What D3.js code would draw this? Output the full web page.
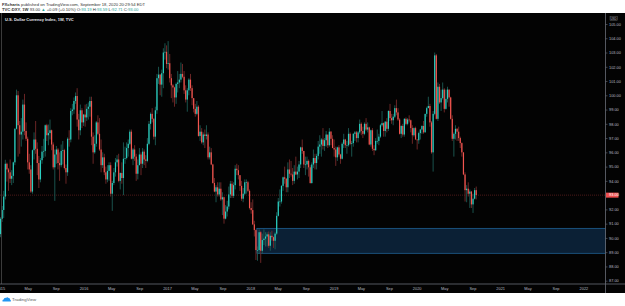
<!DOCTYPE html>
<html>
<head>
<meta charset="utf-8">
<script src="https://cdn.jsdelivr.net/npm/d3@7"></script>
<style>
  body { margin: 0; background: #fff; }
  svg { display: block; font-family: "Liberation Sans", Arial, sans-serif; }
</style>
</head>
<body>
<svg></svg>
<script>
// DXY weekly candles, one [high, low, close] per week.
// open of each week = close of the week before
const firstWeek = '2015-01-02';
const firstOpen = 90.27;

const hlc2015 = [
  [91.45, 90.05, 91.34], [92.24, 91.12, 91.96], [93.30, 91.40, 92.90], [95.48, 92.70, 95.20],
  [95.28, 93.95, 94.80], [94.90, 93.30, 94.60], [95.50, 93.85, 94.15], [94.75, 93.70, 94.35],
  [95.35, 93.85, 95.30], [97.70, 95.10, 97.65], [100.40, 97.60, 100.00], [100.30, 95.70, 97.90],
  [98.20, 95.90, 97.25], [98.40, 96.40, 97.45], [99.70, 96.90, 99.35], [100.10, 97.20, 97.50],
  [98.10, 96.80, 96.95], [97.10, 94.80, 95.30], [95.90, 94.50, 94.80], [95.10, 93.15, 93.25],
  [96.20, 93.10, 96.15], [97.40, 95.50, 96.90], [98.20, 95.90, 96.25], [96.70, 94.40, 95.25],
  [95.75, 93.50, 94.10], [95.60, 93.90, 95.45], [96.45, 95.20, 96.05], [96.95, 95.60, 96.10],
  [97.95, 95.70, 97.90], [98.00, 96.80, 97.20], [97.95, 96.50, 97.35], [98.30, 96.90, 97.55],
  [97.60, 96.15, 96.55], [96.70, 94.80, 94.95], [96.20, 92.60, 95.85], [96.45, 95.20, 96.20],
  [96.30, 94.80, 95.25], [96.00, 94.00, 95.10], [96.55, 94.95, 96.10], [96.80, 95.15, 96.15],
  [96.25, 94.80, 94.90], [95.15, 93.80, 94.60], [97.05, 94.35, 96.95], [97.55, 96.40, 96.90],
  [99.10, 96.70, 98.90], [99.40, 98.60, 99.00], [99.85, 98.70, 99.60], [100.20, 99.40, 99.95],
  [100.50, 97.80, 98.30], [98.70, 96.90, 97.55], [99.35, 97.20, 98.95], [99.10, 97.70, 98.10]
];

const hlc2016 = [
  [98.70, 97.85, 98.65], [99.35, 97.80, 98.45], [99.40, 98.20, 99.05], [99.50, 98.30, 99.20],
  [99.90, 98.50, 99.60], [99.90, 96.50, 97.10], [97.40, 95.20, 96.00], [97.20, 95.90, 96.60],
  [98.20, 96.40, 98.10], [98.60, 97.20, 97.30], [98.40, 96.10, 96.20], [96.90, 94.60, 95.10],
  [96.00, 94.90, 95.65], [95.90, 94.40, 94.60], [95.00, 93.80, 94.10], [95.10, 93.90, 94.70],
  [95.30, 94.00, 95.10], [95.30, 92.90, 93.10], [94.00, 91.90, 93.85], [94.90, 93.70, 94.60],
  [95.60, 94.30, 95.30], [95.80, 95.00, 95.50], [95.90, 93.90, 94.00], [94.60, 93.40, 94.55],
  [95.30, 93.80, 94.20], [96.70, 93.00, 95.55], [96.40, 95.20, 95.60], [96.70, 95.50, 96.30],
  [96.90, 95.70, 96.60], [97.60, 96.50, 97.45], [97.60, 95.50, 95.55], [96.30, 95.10, 96.20],
  [96.50, 95.40, 95.70], [95.90, 94.00, 94.50], [95.50, 94.10, 95.10], [96.30, 95.10, 95.85],
  [96.00, 94.40, 95.20], [96.30, 94.90, 96.05], [96.20, 95.10, 95.50], [95.80, 94.90, 95.40],
  [97.00, 95.30, 96.60], [98.20, 96.50, 98.00], [98.80, 97.60, 98.70], [99.10, 98.10, 98.35],
  [98.40, 96.90, 97.10], [99.20, 96.50, 98.95], [101.50, 98.70, 101.20], [102.00, 100.80, 101.45],
  [101.50, 100.00, 100.75], [101.80, 99.90, 101.55], [103.30, 100.50, 103.00], [103.65, 102.50, 103.05],
  [103.50, 101.90, 102.20]
];

const hlc2017 = [
  [103.80, 101.80, 102.25], [102.90, 100.90, 101.20], [101.50, 99.80, 100.70], [100.80, 99.50, 100.55],
  [100.60, 99.20, 99.85], [100.90, 99.40, 100.80], [101.70, 100.20, 100.90], [101.50, 100.50, 101.10],
  [102.30, 100.90, 101.50], [102.20, 101.20, 101.30], [101.70, 100.10, 100.35], [100.70, 99.50, 99.70],
  [100.50, 98.85, 100.35], [101.20, 100.00, 101.10], [101.50, 100.30, 100.50], [100.70, 99.30, 99.80],
  [99.80, 98.80, 99.05], [99.40, 98.50, 98.70], [99.60, 98.60, 99.20], [99.30, 97.10, 97.15],
  [97.90, 96.80, 97.45], [97.70, 96.60, 96.70], [97.40, 96.50, 97.25], [97.60, 96.30, 97.15],
  [97.90, 96.90, 97.25], [97.40, 95.50, 95.65], [96.40, 95.50, 96.00], [96.30, 95.10, 95.15],
  [95.20, 93.80, 93.85], [94.20, 93.20, 93.25], [93.70, 92.50, 93.55], [93.90, 92.90, 93.05],
  [93.90, 92.90, 93.45], [93.90, 92.60, 92.70], [93.20, 91.60, 92.85], [92.90, 91.00, 91.35],
  [92.30, 91.30, 91.85], [92.60, 91.50, 92.20], [93.60, 92.00, 93.05], [94.00, 92.80, 93.80],
  [94.00, 92.80, 92.95], [93.90, 92.80, 93.70], [95.10, 93.40, 94.85], [95.20, 94.40, 94.75],
  [95.10, 94.10, 94.40], [94.40, 93.30, 93.65], [94.00, 92.60, 92.75], [93.50, 92.50, 93.10],
  [94.10, 93.00, 93.90], [94.10, 93.10, 93.90], [94.00, 93.20, 93.30], [93.40, 92.00, 92.10]
];

const hlc2018 = [
  [92.50, 91.70, 91.95], [92.70, 90.90, 90.95], [91.20, 90.10, 90.55], [90.60, 88.45, 89.15],
  [89.40, 88.40, 89.15], [90.60, 88.90, 90.40], [90.50, 88.25, 89.10], [90.30, 88.90, 89.85],
  [90.60, 89.50, 89.95], [90.40, 89.40, 90.10], [90.40, 89.40, 90.25], [90.45, 89.30, 89.45],
  [90.40, 89.10, 90.15], [90.50, 89.80, 90.05], [90.10, 89.30, 89.80], [90.40, 89.20, 90.30],
  [91.80, 90.20, 91.55], [92.80, 91.50, 92.55], [93.40, 92.20, 92.55], [93.70, 92.40, 93.65],
  [94.30, 93.30, 94.25], [95.00, 93.80, 94.15], [94.20, 93.20, 93.55], [95.30, 93.20, 94.80],
  [95.50, 94.20, 94.50], [95.40, 94.30, 94.45], [94.90, 93.70, 94.00], [95.10, 93.80, 94.65],
  [95.70, 94.40, 94.45], [95.00, 94.10, 94.65], [95.40, 94.20, 95.15], [96.40, 94.90, 96.35],
  [96.90, 95.90, 96.10], [96.10, 94.90, 95.15], [95.70, 94.40, 95.15], [95.70, 94.80, 95.40],
  [95.50, 94.30, 94.95], [95.10, 93.80, 93.85], [95.30, 93.80, 95.15], [96.20, 94.90, 95.60],
  [95.90, 94.80, 95.25], [95.90, 94.80, 95.75], [96.80, 95.50, 96.40], [97.20, 95.90, 96.55],
  [97.00, 95.70, 96.90], [97.70, 96.20, 96.45], [97.00, 96.10, 96.85], [97.50, 96.40, 97.25],
  [97.20, 96.30, 96.50], [97.70, 96.40, 97.45], [97.50, 96.50, 96.95], [97.20, 96.30, 96.30]
];

const hlc2019 = [
  [96.90, 95.70, 96.20], [96.40, 95.05, 95.65], [96.40, 95.40, 96.35], [96.50, 95.70, 95.85],
  [95.90, 95.20, 95.55], [96.70, 95.50, 96.60], [97.30, 96.30, 96.90], [96.95, 96.30, 96.50],
  [96.80, 95.90, 96.50], [97.70, 96.40, 97.30], [97.40, 96.50, 96.60], [96.80, 95.70, 96.65],
  [97.35, 96.40, 97.30], [97.50, 96.80, 97.40], [97.50, 96.70, 97.00], [97.50, 96.70, 97.40],
  [98.30, 97.30, 98.00], [98.10, 97.20, 97.50], [97.80, 97.00, 97.30], [98.10, 97.20, 98.00],
  [98.40, 97.50, 97.60], [98.10, 97.40, 97.75], [97.80, 96.50, 96.55], [97.60, 96.40, 97.55],
  [97.70, 96.10, 96.25], [96.50, 95.80, 96.15], [97.00, 96.10, 96.80], [97.60, 96.60, 96.80],
  [97.30, 96.50, 97.10], [98.00, 97.00, 97.90], [98.90, 97.80, 98.05], [98.10, 97.10, 97.50],
  [98.20, 97.10, 98.15], [98.40, 97.40, 97.65], [98.95, 97.50, 98.90], [99.40, 98.20, 98.40],
  [98.70, 98.00, 98.25], [98.70, 97.90, 98.50], [99.30, 98.40, 99.10], [99.70, 98.60, 98.80],
  [99.10, 98.20, 98.30], [98.40, 97.25, 97.30], [97.90, 97.00, 97.85], [98.00, 97.10, 97.25],
  [98.40, 97.10, 98.35], [98.45, 97.90, 98.00], [98.40, 97.90, 98.30], [98.60, 98.10, 98.25],
  [98.30, 97.40, 97.70], [97.90, 96.60, 97.20], [97.75, 97.10, 97.70], [97.80, 96.90, 96.90]
];

const hlc2020 = [
  [96.90, 96.20, 96.85], [97.45, 96.60, 97.35], [97.65, 96.90, 97.60], [97.90, 97.30, 97.85],
  [98.20, 97.30, 97.40], [98.70, 97.40, 98.70], [99.20, 98.50, 99.10], [99.90, 99.10, 99.25],
  [99.40, 97.80, 98.10], [98.20, 95.90, 96.00], [98.90, 94.65, 98.70], [103.00, 98.60, 102.80],
  [102.90, 98.30, 98.35], [100.90, 98.20, 100.60], [100.80, 99.40, 99.50], [100.40, 98.90, 99.80],
  [100.90, 99.70, 100.40], [100.50, 98.80, 99.05], [100.40, 99.00, 99.75], [100.60, 99.50, 100.40],
  [100.40, 99.20, 99.85], [99.90, 98.30, 98.35], [98.60, 96.80, 96.95], [97.40, 95.70, 97.30],
  [97.90, 96.90, 97.65], [97.70, 96.80, 97.45], [97.80, 96.80, 97.00], [97.10, 96.30, 96.65],
  [96.70, 95.70, 96.00], [96.00, 94.40, 94.45], [94.60, 92.55, 93.35], [93.70, 92.50, 93.45],
  [93.90, 92.90, 93.10], [93.40, 92.10, 93.25], [93.30, 92.10, 92.35], [93.10, 91.75, 92.75],
  [93.50, 92.70, 93.35], [93.60, 92.70, 93.00]
];

const priceTicks = [105, 104, 103, 102, 101, 100, 99, 98, 97, 96, 95, 94, 92, 91, 90, 89, 88, 87];
const lastPrice = 93.00;

const timeTicks = [
  '2015-01-01', '2015-05-01', '2015-09-01', '2016-01-01', '2016-05-01', '2016-09-01',
  '2017-01-01', '2017-05-01', '2017-09-01', '2018-01-01', '2018-05-01', '2018-09-01',
  '2019-01-01', '2019-05-01', '2019-09-01', '2020-01-01', '2020-05-01', '2020-09-01',
  '2021-01-01', '2021-05-01', '2021-09-01', '2022-01-01'
];
const timeLabels = [
  '2015', 'May', 'Sep', '2016', 'May', 'Sep', '2017', 'May', 'Sep', '2018', 'May', 'Sep',
  '2019', 'May', 'Sep', '2020', 'May', 'Sep', '2021', 'May', 'Sep', '2022'
];

// demand zone drawn on the chart
const zoneStart = '2018-01-30';
const zoneTop = 90.67;
const zoneBottom = 88.92;

const svg = d3.select('svg')
  .attr('width', 625)
  .attr('height', 306);

const width = +svg.attr('width'),
  plotRight = 605.5,
  chartTop = 13,
  axisY = 284,
  chartBottom = 293;

const upBody = '#2ad0c2', downBody = '#f2554f',
  upWick = '#1d5c56', downWick = '#772a2a',
  axisColor = '#6b6e78', labelColor = '#b7bac2';

const parse = d3.timeParse('%Y-%m-%d');

let data = [], prev = firstOpen, t = parse(firstWeek);
[hlc2015, hlc2016, hlc2017, hlc2018, hlc2019, hlc2020].flat().forEach(([h, l, c]) => {
  data.push({ date: t, o: prev, h: h, l: l, c: c });
  prev = c;
  t = d3.timeDay.offset(t, 7);
});

const xScale = d3.scaleTime()
  .domain([new Date(2015, 0, 1), new Date(2022, 0, 1)])
  .range([0.3, 583.4]);

const yScale = d3.scaleLinear()
  .domain([87, 105])
  .range([280.7, 24]);

// header on white
const header = svg.append('g').attr('font-size', 4.2).attr('fill', '#333');
const h1 = header.append('text').attr('x', 2).attr('y', 5.6);
h1.append('tspan').attr('font-weight', 'bold').text('FXcharts');
h1.append('tspan').text(' published on TradingView.com, September 18, 2020 20:29:54 EDT');

const h2 = header.append('text').attr('x', 2).attr('y', 11);
h2.append('tspan').attr('font-weight', 'bold').text('TVC:DXY, 1W');
h2.append('tspan').text(' 93.00 ');
h2.append('tspan').attr('fill', '#26a69a').text('▲');
h2.append('tspan').text(' +0.09 (+0.10%) O:');
h2.append('tspan').attr('fill', '#26a69a').text('93.19');
h2.append('tspan').text(' H:');
h2.append('tspan').attr('fill', '#26a69a').text('93.59');
h2.append('tspan').text(' L:');
h2.append('tspan').attr('fill', '#26a69a').text('92.71');
h2.append('tspan').text(' C:');
h2.append('tspan').attr('fill', '#26a69a').text('93.00');

// black chart panel
svg.append('rect')
  .attr('x', 0).attr('y', chartTop)
  .attr('width', width).attr('height', chartBottom - chartTop)
  .attr('fill', '#030303');

svg.append('clipPath').attr('id', 'plot-clip')
  .append('rect')
  .attr('x', 0).attr('y', chartTop)
  .attr('width', plotRight).attr('height', axisY - chartTop);

const g = svg.append('g').attr('clip-path', 'url(#plot-clip)');

// zone box
g.append('rect')
  .attr('x', xScale(parse(zoneStart)))
  .attr('y', yScale(zoneTop))
  .attr('width', plotRight - xScale(parse(zoneStart)))
  .attr('height', yScale(zoneBottom) - yScale(zoneTop))
  .attr('fill', '#0b2035')
  .attr('stroke', '#1f5f92')
  .attr('stroke-width', 0.8);

// last price line
g.append('line')
  .attr('x1', 0).attr('x2', plotRight)
  .attr('y1', yScale(lastPrice)).attr('y2', yScale(lastPrice))
  .attr('stroke', '#6e2424')
  .attr('stroke-width', 0.7)
  .attr('stroke-dasharray', '1,1');

// wicks
g.selectAll('.wick').data(data).enter().append('line')
  .attr('class', 'wick')
  .attr('x1', d => xScale(d.date)).attr('x2', d => xScale(d.date))
  .attr('y1', d => yScale(d.h)).attr('y2', d => yScale(d.l))
  .attr('stroke', d => d.c >= d.o ? upWick : downWick)
  .attr('stroke-width', 0.9);

// bodies
g.selectAll('.body').data(data).enter().append('rect')
  .attr('class', 'body')
  .attr('x', d => xScale(d.date) - 0.6)
  .attr('width', 1.2)
  .attr('y', d => yScale(Math.max(d.o, d.c)))
  .attr('height', d => Math.max(0.6, Math.abs(yScale(d.o) - yScale(d.c))))
  .attr('fill', d => d.c >= d.o ? upBody : downBody);

// chart title
svg.append('text')
  .attr('x', 5).attr('y', 20.6)
  .attr('font-size', 4)
  .attr('font-weight', 'bold')
  .attr('fill', '#e4e6ec')
  .text('U.S. Dollar Currency Index, 1W, TVC');

// left border
svg.append('line')
  .attr('x1', 1.5).attr('x2', 1.5)
  .attr('y1', chartTop).attr('y2', axisY)
  .attr('stroke', '#4a4a4a').attr('stroke-width', 0.8);

// price axis
const yAxis = d3.axisRight(yScale)
  .tickValues(priceTicks)
  .tickFormat(d3.format('.2f'))
  .tickSize(2)
  .tickPadding(1.5);

const yAxisG = svg.append('g')
  .attr('transform', `translate(${plotRight}, 0)`)
  .call(yAxis);
yAxisG.select('.domain').remove();
yAxisG.selectAll('line').attr('stroke', axisColor).attr('stroke-width', 0.6);
yAxisG.selectAll('text')
  .attr('font-size', 3.9)
  .attr('fill', labelColor)
  .attr('font-family', '"Liberation Sans", Arial, sans-serif');

svg.append('line')
  .attr('x1', plotRight).attr('x2', plotRight)
  .attr('y1', chartTop).attr('y2', chartBottom)
  .attr('stroke', axisColor).attr('stroke-width', 0.8);

// currency tag
svg.append('rect')
  .attr('x', 610).attr('y', 16.6)
  .attr('width', 7.2).attr('height', 3.8)
  .attr('fill', 'none').attr('stroke', '#777').attr('stroke-width', 0.4);
svg.append('text')
  .attr('x', 613.6).attr('y', 19.5)
  .attr('text-anchor', 'middle')
  .attr('font-size', 3)
  .attr('fill', labelColor)
  .text('USD');

// last price tag
svg.append('rect')
  .attr('x', 606).attr('y', yScale(lastPrice) - 2.5)
  .attr('width', 12.5).attr('height', 5)
  .attr('fill', '#f0504f');
svg.append('text')
  .attr('x', 609.1).attr('y', yScale(lastPrice))
  .attr('dy', '0.35em')
  .attr('font-size', 3.9)
  .attr('fill', '#fff')
  .text(d3.format('.2f')(lastPrice));

// time axis
const xAxis = d3.axisBottom(xScale)
  .tickValues(timeTicks.map(parse))
  .tickFormat((d, i) => timeLabels[i])
  .tickSize(0)
  .tickPadding(3.6);

const xAxisG = svg.append('g')
  .attr('transform', `translate(0, ${axisY})`)
  .call(xAxis);
xAxisG.select('.domain').remove();
xAxisG.selectAll('text')
  .attr('font-size', 3.9)
  .attr('fill', labelColor)
  .attr('font-family', '"Liberation Sans", Arial, sans-serif');

svg.append('line')
  .attr('x1', 0).attr('x2', width)
  .attr('y1', axisY).attr('y2', axisY)
  .attr('stroke', axisColor).attr('stroke-width', 0.8);

// TradingView mark under the chart
const logo = svg.append('g').attr('transform', 'translate(2, 296.5)');
logo.append('path')
  .attr('d', 'M0.5,5 Q0,3.2 1.6,3 Q2,1 4,1.4 Q5.2,0 6.6,1.4 Q8.4,1.4 8.2,3.2 Q9.4,3.6 8.8,5 Z')
  .attr('fill', '#2196f3');
logo.append('text')
  .attr('x', 10).attr('y', 4.6)
  .attr('font-size', 4.4)
  .attr('fill', '#555')
  .text('TradingView');
</script>
</body>
</html>
